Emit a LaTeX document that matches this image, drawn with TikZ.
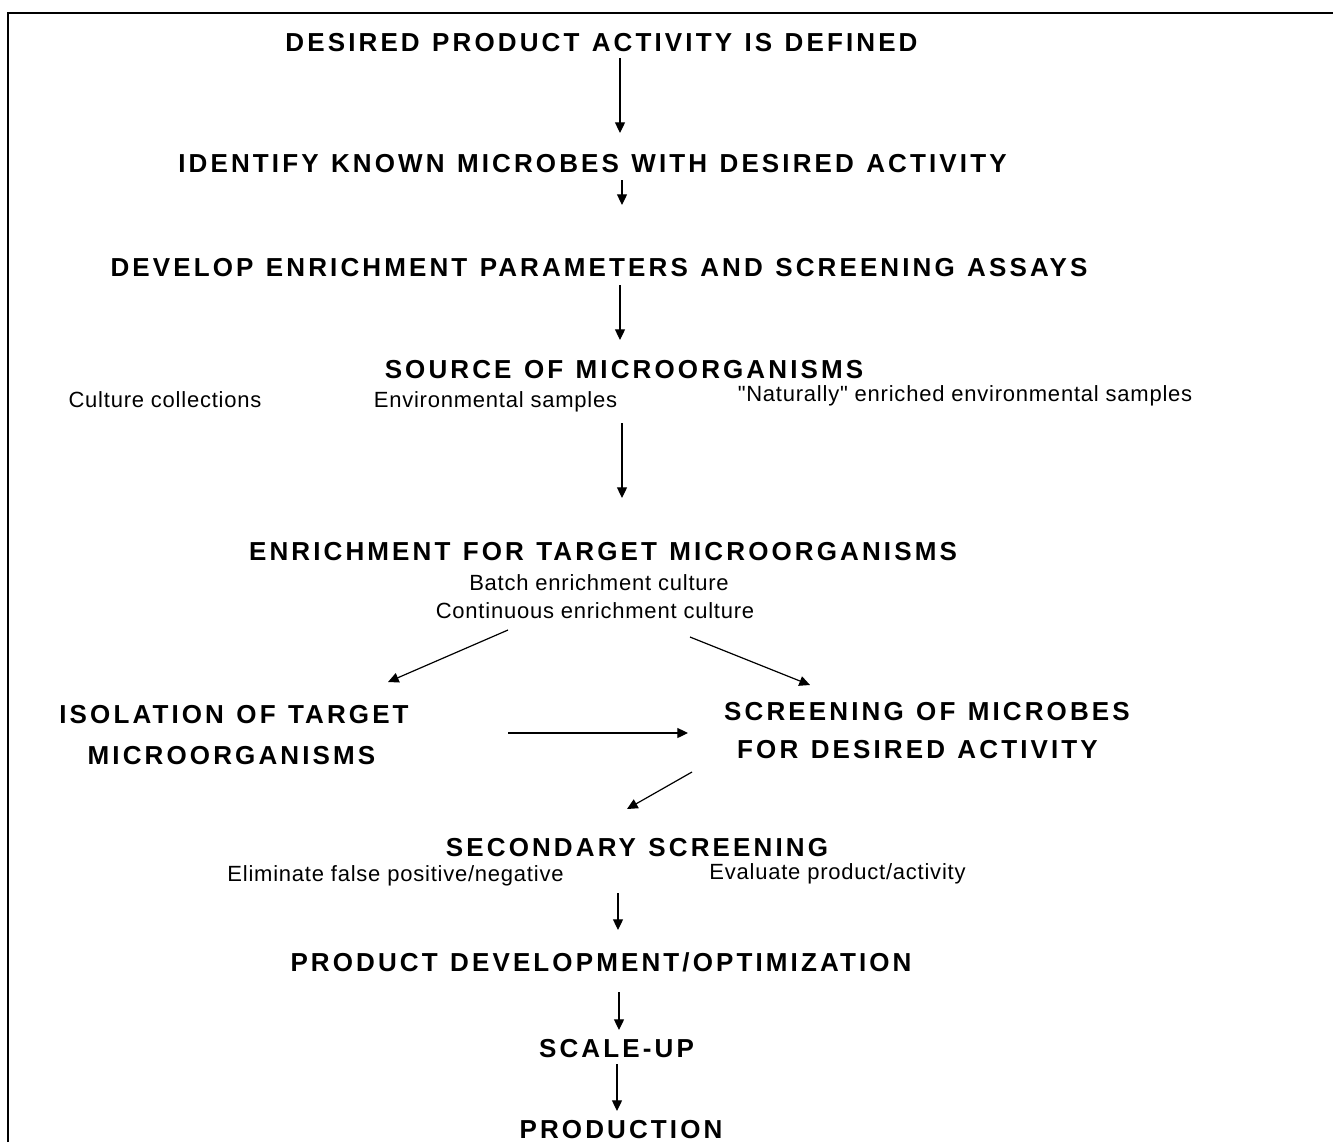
\documentclass[tikz,border=0pt]{standalone}
\usepackage{fontspec}
\setmainfont{Liberation Sans}
\newfontfamily\titlefont{Liberation Sans}[LetterSpace=12,WordSpace=1.2]
\newfontfamily\notefont{Liberation Sans}[LetterSpace=3.5]
\usetikzlibrary{arrows.meta}
\begin{document}
\begin{tikzpicture}[x=0.75pt,y=-0.75pt,
  title/.style={anchor=base,inner sep=0pt,font=\titlefont\bfseries\fontsize{19.5}{23}\selectfont},
  note/.style={anchor=base,inner sep=0pt,font=\notefont\fontsize{16.5}{20}\selectfont},
  arr/.style={line width=0.9pt,-{Triangle[length=8pt,width=7.5pt]}},
  frame/.style={line width=1.3pt}]
\useasboundingbox (0,0) rectangle (1333,1142);
\draw[frame] (8,1142) -- (8,13) -- (1333,13);

\node[title] (t1) at (601.5,51) {DESIRED PRODUCT ACTIVITY IS DEFINED};
\node[title] (t2) at (592.5,172) {IDENTIFY KNOWN MICROBES WITH DESIRED ACTIVITY};
\node[title] (t3) at (599,276) {DEVELOP ENRICHMENT PARAMETERS AND SCREENING ASSAYS};
\node[title] (t4) at (624,378) {SOURCE OF MICROORGANISMS};
\node[note] (s1) at (165,407) {Culture collections};
\node[note] (s2) at (495.5,407) {Environmental samples};
\node[note] (s3) at (965,401) {"Naturally" enriched environmental samples};
\node[title] (t5) at (603,560) {ENRICHMENT FOR TARGET MICROORGANISMS};
\node[note] (e1) at (599,590) {Batch enrichment culture};
\node[note] (e2) at (595,618) {Continuous enrichment culture};
\node[title] (i1) at (234,723) {ISOLATION OF TARGET};
\node[title] (i2) at (231.5,764) {MICROORGANISMS};
\node[title] (m1) at (927,720) {SCREENING OF MICROBES};
\node[title] (m2) at (917.5,758) {FOR DESIRED ACTIVITY};
\node[title] (t6) at (637,856) {SECONDARY SCREENING};
\node[note] (d1) at (395.5,881) {Eliminate false positive/negative};
\node[note] (d2) at (837.5,879) {Evaluate product/activity};
\node[title] (t7) at (601,971) {PRODUCT DEVELOPMENT/OPTIMIZATION};
\node[title] (t8) at (616.5,1057) {SCALE-UP};
\node[title] (t9) at (621,1138) {PRODUCTION};

\coordinate (a1s) at (620,58);  \coordinate (a1e) at (620,133);
\coordinate (a2s) at (622,180); \coordinate (a2e) at (622,205);
\coordinate (a3s) at (620,285); \coordinate (a3e) at (620,340);
\coordinate (a4s) at (622,423); \coordinate (a4e) at (622,498);
\coordinate (a5s) at (508,630); \coordinate (a5e) at (388,682);
\coordinate (a6s) at (690,637); \coordinate (a6e) at (810,685);
\coordinate (a7s) at (508,733); \coordinate (a7e) at (688,733);
\coordinate (a8s) at (692,772); \coordinate (a8e) at (627,809);
\coordinate (a9s) at (618,893); \coordinate (a9e) at (618,930);
\coordinate (a10s) at (619,992); \coordinate (a10e) at (619,1030);
\coordinate (a11s) at (617,1064); \coordinate (a11e) at (617,1111);

\draw[arr] (a1s) -- (a1e);
\draw[arr] (a2s) -- (a2e);
\draw[arr] (a3s) -- (a3e);
\draw[arr] (a4s) -- (a4e);
\draw[arr] (a5s) -- (a5e);
\draw[arr] (a6s) -- (a6e);
\draw[arr] (a7s) -- (a7e);
\draw[arr] (a8s) -- (a8e);
\draw[arr] (a9s) -- (a9e);
\draw[arr] (a10s) -- (a10e);
\draw[arr] (a11s) -- (a11e);
\end{tikzpicture}
\end{document}
